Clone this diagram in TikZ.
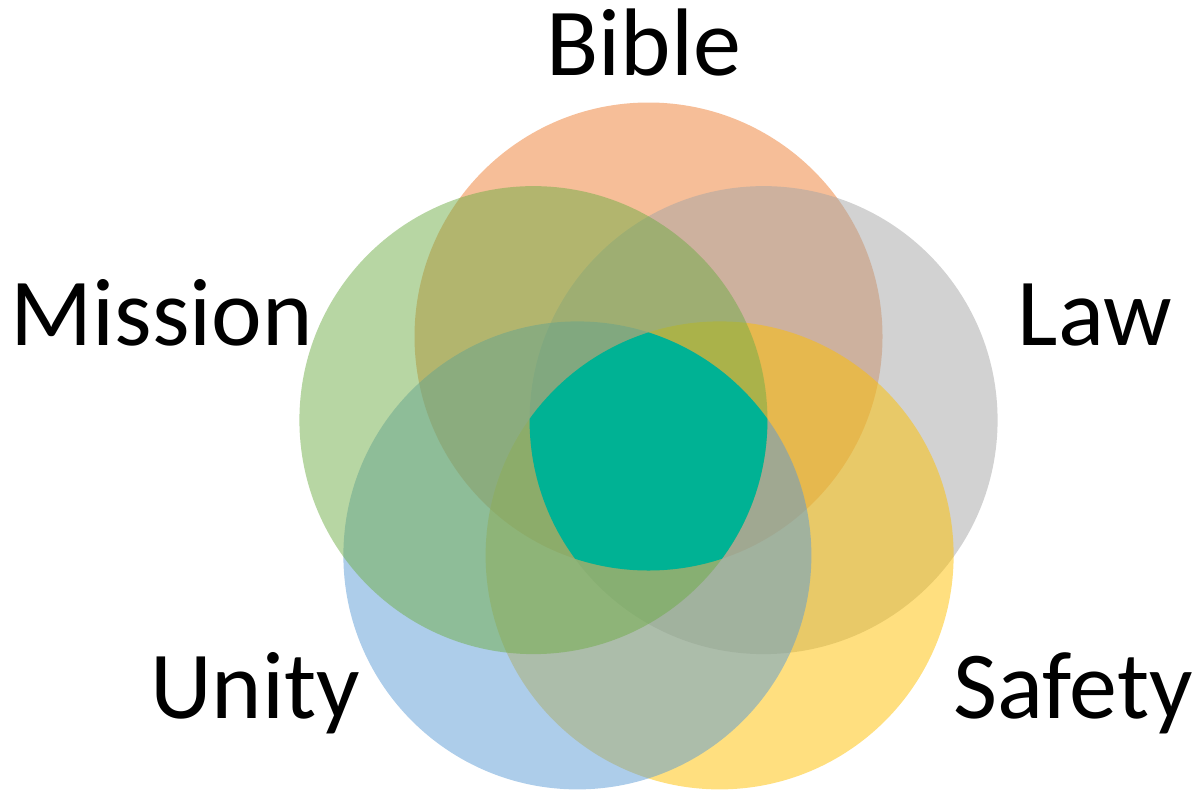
\documentclass[tikz,border=0pt]{standalone}
\usepackage{fontspec}
\setmainfont{Carlito}
\definecolor{biblecol}{HTML}{ED7D31}
\definecolor{lawcol}{HTML}{A5A5A5}
\definecolor{safetycol}{HTML}{FFC000}
\definecolor{unitycol}{HTML}{5B9BD5}
\definecolor{missioncol}{HTML}{70AD47}
\definecolor{corecol}{HTML}{00B294}
\tikzset{
  ring/.style={fill opacity=0.5},
  label/.style={anchor=base,inner sep=0pt,font=\fontsize{96}{100}\selectfont}
}
\begin{document}
\begin{tikzpicture}[x=1pt,y=-1pt]
    \useasboundingbox (0,0) rectangle (1201,790);
    \coordinate (mid) at (648.5,457.5);
    \foreach \ang/\name in {-90/bible,-18/law,54/safety,126/unity,198/mission}
    {
        \path (mid) ++(\ang:121) coordinate (c\name);
    }
    \foreach \name in {bible,law,safety,unity,mission}
    {
        \fill[\name col,ring] (c\name) circle (234pt);
    }
    \begin{scope}
        \foreach \name in {bible,law,safety,unity,mission}
        {
            \clip (c\name) circle (234pt);
        }
        \fill[corecol] (300,100) rectangle (1000,790);
    \end{scope}
    \node[label] (bible) at (644,75) {Bible};
    \node[label] (mission) at (162,345) {Mission};
    \node[label] (law) at (1095,345) {Law};
    \node[label] (unity) at (255,718) {Unity};
    \node[label] (safety) at (1073,718) {Safety};
\end{tikzpicture}
\end{document}
